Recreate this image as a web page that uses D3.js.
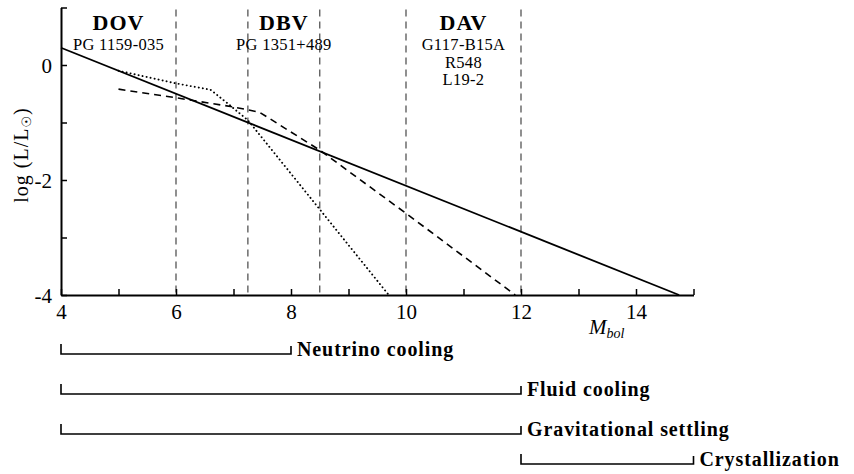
<!DOCTYPE html>
<html>
<head>
<meta charset="utf-8">
<script src="https://cdn.jsdelivr.net/npm/d3@7"></script>
<style>
  body { margin: 0; background: #fff; }
  svg text { font-family: "Liberation Serif", "Times New Roman", serif; }
</style>
</head>
<body>
<script>
// cooling curves, log L vs M_bol
var solidM = [4, 14.75];
var solidL = [0.3, -4];
var dottedM = [5, 6, 6.6, 6.9, 7.25, 9.7];
var dottedL = [-0.1, -0.32, -0.43, -0.67, -0.96, -4];
var dashedM = [5, 6, 7, 7.45, 8.5, 10, 11.9];
var dashedL = [-0.42, -0.57, -0.73, -0.82, -1.48, -2.58, -4];

// instability strip boundaries
var stripEdges = [6, 7.25, 8.5, 10, 12];
var classNames = ["DOV", "DBV", "DAV"];
var classCenters = [5, 7.875, 11];
var classStars = [["PG 1159-035"], ["PG 1351+489"], ["G117-B15A", "R548", "L19-2"]];

// cooling phases (brackets under the axis)
var phaseNames = ["Neutrino cooling", "Fluid cooling", "Gravitational settling", "Crystallization"];
var phaseStart = [4, 4, 4, 12];
var phaseEnd = [8, 12, 12, 15];

var xTicks = [4, 5, 6, 7, 8, 9, 10, 11, 12, 13, 14, 15];
var yTicks = [-4, -3, -2, -1, 0, 1];

var w = 854, h = 474;
var serif = "'Liberation Serif', 'Times New Roman', serif";

var svg = d3.select("body").append("svg")
    .attr("width", w)
    .attr("height", h);

var x = d3.scaleLinear().domain([4, 15]).range([61, 693.5]);
var y = d3.scaleLinear().domain([-4, 1]).range([295, 7.5]);

// vertical dashed strip lines
svg.selectAll("line.strip")
    .data(stripEdges)
    .enter()
    .append("line")
    .attr("class", "strip")
    .attr("x1", function(d) { return x(d); })
    .attr("x2", function(d) { return x(d); })
    .attr("y1", y(1) + 2)
    .attr("y2", y(-4))
    .attr("stroke", "#555")
    .attr("stroke-width", 1.3)
    .attr("stroke-dasharray", "7,5");

// axes
var xAxis = d3.axisBottom(x)
    .tickValues(xTicks)
    .tickSizeInner(-6)
    .tickSizeOuter(0)
    .tickPadding(9)
    .tickFormat(function(d) { return d % 2 == 0 ? d : ""; });

var yAxis = d3.axisLeft(y)
    .tickValues(yTicks)
    .tickSizeInner(-6)
    .tickSizeOuter(0)
    .tickPadding(9)
    .tickFormat(function(d) { return d % 2 == 0 ? String(d).replace("\u2212", "-") : ""; });

var gx = svg.append("g").attr("transform", "translate(0," + y(-4) + ")").call(xAxis);
var gy = svg.append("g").attr("transform", "translate(" + x(4) + ",0)").call(yAxis);

[gx, gy].forEach(function(g) {
    g.attr("font-family", serif).attr("font-size", 21);
    g.select(".domain").attr("stroke", "#000").attr("stroke-width", 2);
    g.selectAll(".tick line").attr("stroke", "#000").attr("stroke-width", 1.5);
    g.selectAll(".tick text")
        .attr("fill", "#000")
        .style("font-family", serif)
        .style("font-size", "21px");
});
gy.selectAll(".tick text").attr("dy", "0.35em");

// curves
var line = d3.line()
    .x(function(d) { return x(d[0]); })
    .y(function(d) { return y(d[1]); });

svg.append("path")
    .datum(d3.zip(solidM, solidL))
    .attr("d", line)
    .attr("fill", "none")
    .attr("stroke", "#000")
    .attr("stroke-width", 1.8);

svg.append("path")
    .datum(d3.zip(dashedM, dashedL))
    .attr("d", line)
    .attr("fill", "none")
    .attr("stroke", "#000")
    .attr("stroke-width", 1.6)
    .attr("stroke-dasharray", "7,5");

svg.append("path")
    .datum(d3.zip(dottedM, dottedL))
    .attr("d", line)
    .attr("fill", "none")
    .attr("stroke", "#000")
    .attr("stroke-width", 1.9)
    .attr("stroke-linecap", "round")
    .attr("stroke-dasharray", "0.1,4");

// class labels
classNames.forEach(function(name, i) {
    svg.append("text")
        .attr("x", x(classCenters[i]))
        .attr("y", 30)
        .attr("text-anchor", "middle")
        .style("font-weight", "bold")
        .style("font-size", "22px")
        .style("letter-spacing", "1px")
        .text(name);
    classStars[i].forEach(function(s, j) {
        svg.append("text")
            .attr("x", x(classCenters[i]))
            .attr("y", 50 + j * 17.5)
            .attr("text-anchor", "middle")
            .style("font-size", "16.5px")
            .style("letter-spacing", "0.3px")
            .text(s);
    });
});

// axis titles
var yl = svg.append("text")
    .attr("transform", "translate(28,155) rotate(-90)")
    .attr("text-anchor", "middle")
    .style("font-size", "20px")
    .style("letter-spacing", "1px");
yl.append("tspan").text("log (L/L");
yl.append("tspan").attr("baseline-shift", "-25%").style("font-size", "13px").style("font-family", "'DejaVu Sans'").text("\u2609");
yl.append("tspan").text(")");

var xl = svg.append("text")
    .attr("x", 589)
    .attr("y", 334)
    .style("font-style", "italic")
    .style("font-size", "21px");
xl.append("tspan").text("M");
xl.append("tspan").attr("baseline-shift", "-25%").style("font-size", "14px").text("bol");

// phase brackets
var rowY = [354, 394, 434, 464];
phaseNames.forEach(function(name, i) {
    var x0 = x(phaseStart[i]), x1 = x(phaseEnd[i]), yy = rowY[i];
    svg.append("path")
        .attr("d", "M" + x0 + "," + (yy - 10) + "V" + yy + "H" + x1 + "V" + (yy - 8))
        .attr("fill", "none")
        .attr("stroke", "#000")
        .attr("stroke-width", 1.6);
    svg.append("text")
        .attr("x", x1 + 6)
        .attr("y", yy + 2)
        .style("font-weight", "bold")
        .style("font-size", "20px")
        .style("letter-spacing", "0.9px")
        .text(name);
});
</script>
</body>
</html>
